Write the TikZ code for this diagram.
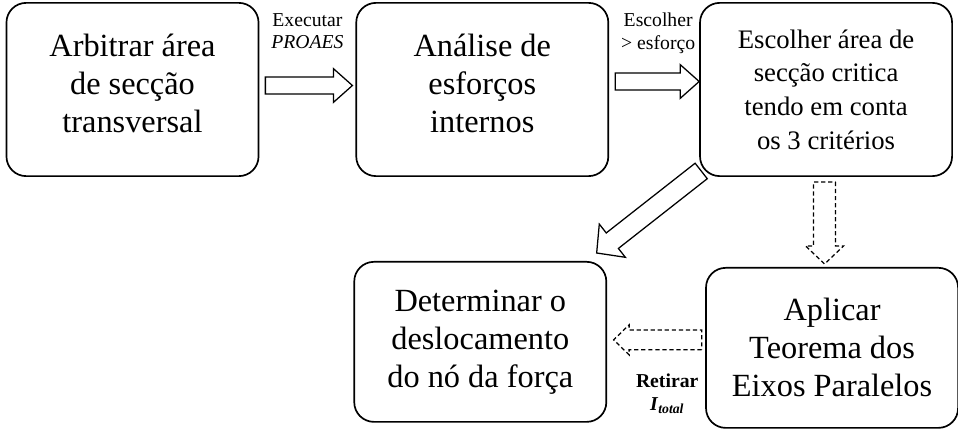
\documentclass[tikz,border=0pt]{standalone}
\usepackage{fontspec}
\setmainfont{Liberation Serif}
\usetikzlibrary{positioning, calc}

\begin{document}
\begin{tikzpicture}[
  x = 0.025cm, y = -0.025cm,
  stage/.style    = {draw, rectangle, rounded corners=14pt, line width=1.2pt,
                     minimum width=6.3cm, minimum height=4.33cm,
                     align=center, font=\fontsize{23}{27}\selectfont},
  lowstage/.style = {stage, minimum height=4cm},
  lbl/.style      = {align=center, inner sep=1pt,
                     font=\fontsize{14}{16}\selectfont},
  bahw/.code      = {\def\bahw{#1}},
  bahh/.code      = {\def\bahh{#1}},
  bahl/.code      = {\def\bahl{#1}},
  hollow/.style   = {line width=0.9pt, bahw=6, bahh=12, bahl=13.5,
                     to path={let \p1=(\tikztostart), \p2=(\tikztotarget),
                       \n1={atan2(\y2-\y1,\x2-\x1)},
                       \n3={veclen(\x2-\x1,\y2-\y1)-\bahl} in
                       ($(\p1)+(\n1+90:\bahw pt)$)
                       -- ($(\p1)+(\n1:\n3)+(\n1+90:\bahw pt)$)
                       -- ($(\p1)+(\n1:\n3)+(\n1+90:\bahh pt)$)
                       -- (\p2)
                       -- ($(\p1)+(\n1:\n3)+(\n1-90:\bahh pt)$)
                       -- ($(\p1)+(\n1:\n3)+(\n1-90:\bahw pt)$)
                       -- ($(\p1)+(\n1-90:\bahw pt)$) -- cycle}},
  hollowD/.style  = {hollow, dash pattern=on 3pt off 2pt}
]
\useasboundingbox (0,0) rectangle (958,432);

%── Linha de cima ─────────────────────────────────────────────────────────
\node[stage] (arbitrar) at (132.5,89.5)
  {Arbitrar área\\de secção\\transversal\rule[-9pt]{0pt}{0pt}};

\node[stage, right=2.4cm of arbitrar] (analise)
  {Análise de\\esforços\\internos\rule[-9pt]{0pt}{0pt}};

\node[stage, right=2.25cm of analise, font=\fontsize{19}{24}\selectfont] (criterios)
  {Escolher área de\\secção critica\\tendo em conta\\os 3 critérios};

%── Linha de baixo ────────────────────────────────────────────────────────
\node[lowstage, below=2.25cm of criterios, xshift=0.15cm] (teorema)
  {Aplicar\\Teorema dos\\Eixos Paralelos};

\node[lowstage, left=2.45cm of teorema, yshift=0.15cm] (deslocamento)
  {Determinar o\\deslocamento\\do nó da força};

%── Setas ─────────────────────────────────────────────────────────────────
\draw[hollow] ([shift={(6,-4)}]arbitrar.east) to ([shift={(-3,-4)}]analise.west);

\draw[hollow] ([shift={(6,-8)}]analise.east) to ([shift={(0,-8)}]criterios.west);

\draw[hollow, bahw=7, bahh=15, bahl=14]
  ([shift={(2,-6)}]criterios.south west) to ([shift={(-10.5,-8)}]deslocamento.north east);

\draw[hollowD, bahw=7.8, bahh=13.5, bahl=12.8]
  ([shift={(-1.5,5)}]criterios.south) to ([shift={(-7.5,-3)}]teorema.north);

\draw[hollowD, bahw=7, bahh=10.7, bahl=11]
  ([shift={(-3.5,-8)}]teorema.west) to ([shift={(6.5,-2)}]deslocamento.east);

%── Rótulos ───────────────────────────────────────────────────────────────
\node[lbl] (executar) at ($(arbitrar.north east)!0.5!(analise.north west)+(0,29)$)
  {Executar\\\textit{PROAES}};

\node[lbl] (escolher) at ($(analise.north east)!0.5!(criterios.north west)+(4,31)$)
  {Escolher\\> esforço};

\node[lbl, font=\fontsize{14}{16}\selectfont\bfseries] (retirar)
  at ($(deslocamento.south east)!0.5!(teorema.south west)+(11,-32)$)
  {Retirar\\\textit{I}\textsubscript{\textit{total}}};

\end{tikzpicture}
\end{document}
